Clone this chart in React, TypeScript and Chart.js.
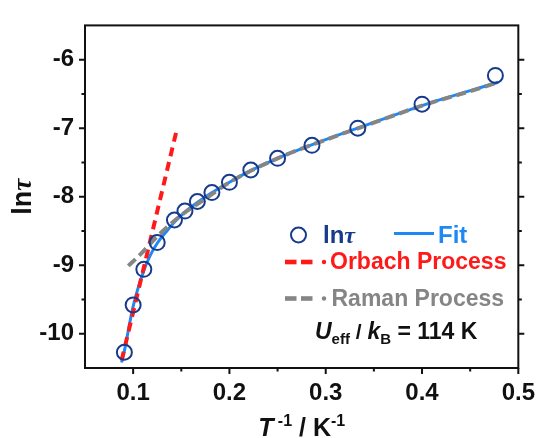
import React, { useEffect, useRef } from "react";
import { Chart, registerables } from "chart.js";
Chart.register(...registerables);

// measured data: T^-1 (K^-1) and ln(tau)
const inverseT = [0.0909, 0.1, 0.1111, 0.125, 0.1429, 0.1538, 0.1667, 0.1818, 0.2, 0.2222, 0.25, 0.2857, 0.3333, 0.4, 0.4762];
const lnTau = [-10.27, -9.58, -9.06, -8.67, -8.34, -8.21, -8.07, -7.94, -7.79, -7.61, -7.44, -7.25, -7.0, -6.65, -6.23];

// fit curve
const fitX = [0.088, 0.0909, 0.1, 0.111, 0.118, 0.125, 0.135, 0.143, 0.154, 0.167, 0.182, 0.2, 0.222, 0.25, 0.286, 0.333, 0.4, 0.479];
const fitY = [-10.42, -10.25, -9.6, -9.08, -8.85, -8.68, -8.5, -8.37, -8.22, -8.08, -7.94, -7.79, -7.62, -7.44, -7.24, -7.0, -6.67, -6.33];

// Orbach process line
const orbachX = [0.088, 0.145];
const orbachY = [-10.39, -7.04];

// Raman process curve
const ramanX = [0.095, 0.107, 0.125, 0.15, 0.175, 0.2, 0.25, 0.3, 0.35, 0.4, 0.45, 0.479];
const ramanY = [-9.01, -8.85, -8.58, -8.27, -8.03, -7.79, -7.44, -7.17, -6.92, -6.67, -6.46, -6.33];

// axes
const xMajor = [0.1, 0.2, 0.3, 0.4, 0.5];
const xMinor = [0.15, 0.25, 0.35, 0.45];
const yMajor = [-10, -9, -8, -7, -6];
const yMinor = [-9.5, -8.5, -7.5, -6.5];

const SANS = '"Liberation Sans", Arial, sans-serif';
const SERIF = '"Liberation Serif", "Times New Roman", serif';
const NAVY = "#173b8c";
const BLUE = "#1e88f5";
const RED = "#ff1a1a";
const GRAY = "#858585";

type Run = { t: string; font: string; dy?: number; color?: string };

function drawRuns(ctx: CanvasRenderingContext2D, runs: Run[], x: number, y: number, align: "left" | "center", color: string) {
  ctx.save();
  ctx.textBaseline = "alphabetic";
  ctx.textAlign = "left";
  let total = 0;
  const widths = runs.map((r) => {
    ctx.font = r.font;
    const w = ctx.measureText(r.t).width;
    total += w;
    return w;
  });
  let cx = align === "center" ? x - total / 2 : x;
  runs.forEach((r, i) => {
    ctx.font = r.font;
    ctx.fillStyle = r.color || color;
    ctx.fillText(r.t, cx, y + (r.dy || 0));
    cx += widths[i];
  });
  ctx.restore();
}

const decorPlugin = {
  id: "decor",
  afterDraw(chart: any) {
    const ctx: CanvasRenderingContext2D = chart.ctx;
    const { left, right, top, bottom } = chart.chartArea;
    const xs = chart.scales.x;
    const ys = chart.scales.y;
    ctx.save();
    ctx.strokeStyle = "#111";
    ctx.lineWidth = 2;
    ctx.strokeRect(left, top, right - left, bottom - top);
    ctx.beginPath();
    xMajor.forEach((v) => {
      const p = xs.getPixelForValue(v);
      ctx.moveTo(p, bottom);
      ctx.lineTo(p, bottom + 6);
    });
    xMinor.forEach((v) => {
      const p = xs.getPixelForValue(v);
      ctx.moveTo(p, bottom);
      ctx.lineTo(p, bottom + 3.5);
    });
    yMajor.forEach((v) => {
      const p = ys.getPixelForValue(v);
      ctx.moveTo(left, p);
      ctx.lineTo(left - 6, p);
      ctx.moveTo(right, p);
      ctx.lineTo(right + 6, p);
    });
    yMinor.forEach((v) => {
      const p = ys.getPixelForValue(v);
      ctx.moveTo(left, p);
      ctx.lineTo(left - 3.5, p);
      ctx.moveTo(right, p);
      ctx.lineTo(right + 3.5, p);
    });
    ctx.stroke();
    ctx.restore();

    // y title
    ctx.save();
    ctx.translate(31, (top + bottom) / 2);
    ctx.rotate(-Math.PI / 2);
    drawRuns(ctx, [
      { t: "ln", font: `bold 27px ${SANS}` },
      { t: "τ", font: `italic bold 27px ${SERIF}` },
    ], 0, 0, "center", "#111");
    ctx.restore();

    // x title
    drawRuns(ctx, [
      { t: "T", font: `italic bold 25px ${SANS}` },
      { t: " -1", font: `bold 16px ${SANS}`, dy: -10 },
      { t: " / K", font: `bold 25px ${SANS}` },
      { t: "-1", font: `bold 16px ${SANS}`, dy: -10 },
    ], (left + right) / 2, 436, "center", "#111");

    // legend
    ctx.save();
    ctx.strokeStyle = NAVY;
    ctx.lineWidth = 2;
    ctx.beginPath();
    ctx.arc(298.5, 235, 7.5, 0, Math.PI * 2);
    ctx.stroke();
    ctx.strokeStyle = BLUE;
    ctx.lineWidth = 3;
    ctx.beginPath();
    ctx.moveTo(394, 233.5);
    ctx.lineTo(434, 233.5);
    ctx.stroke();
    const marker = (y: number, color: string) => {
      ctx.fillStyle = color;
      ctx.fillRect(285, y - 2.3, 11.5, 4.6);
      ctx.fillRect(301, y - 2.3, 11.5, 4.6);
      ctx.beginPath();
      ctx.arc(324, y, 2.2, 0, Math.PI * 2);
      ctx.fill();
    };
    marker(262, RED);
    marker(298.5, GRAY);
    ctx.restore();

    drawRuns(ctx, [
      { t: "ln", font: `bold 24px ${SANS}` },
      { t: "τ", font: `italic bold 24px ${SERIF}` },
    ], 323, 242.5, "left", NAVY);
    drawRuns(ctx, [{ t: "Fit", font: `bold 24px ${SANS}` }], 438, 242.5, "left", BLUE);
    drawRuns(ctx, [{ t: "Orbach Process", font: `bold 23px ${SANS}` }], 330, 269, "left", RED);
    drawRuns(ctx, [{ t: "Raman Process", font: `bold 23px ${SANS}` }], 331.5, 305.5, "left", GRAY);
    drawRuns(ctx, [
      { t: "U", font: `italic bold 23px ${SANS}` },
      { t: "eff", font: `bold 15px ${SANS}`, dy: 5 },
      { t: " / ", font: `bold 21px ${SANS}` },
      { t: "k", font: `italic bold 23px ${SANS}` },
      { t: "B", font: `bold 15px ${SANS}`, dy: 5 },
      { t: " = 114 K", font: `bold 23px ${SANS}` },
    ], 315, 338.5, "left", "#111");
  },
};

export default function App() {
  const ref = useRef<HTMLCanvasElement | null>(null);
  useEffect(() => {
    if (!ref.current) return;
    const tickFont = { family: SANS, size: 24, weight: "bold" as const };
    const chart = new Chart(ref.current, {
      type: "scatter",
      data: {
        datasets: [
          {
            label: "lnτ",
            data: inverseT.map((x, i) => ({ x, y: lnTau[i] })),
            pointStyle: "circle",
            pointRadius: 7.5,
            pointBorderWidth: 2,
            borderColor: NAVY,
            backgroundColor: "rgba(0,0,0,0)",
            showLine: false,
            order: 0,
          },
          {
            label: "Raman Process",
            data: ramanX.map((x, i) => ({ x, y: ramanY[i] })),
            showLine: true,
            pointRadius: 0,
            borderColor: GRAY,
            borderWidth: 4,
            borderDash: [10, 5],
            cubicInterpolationMode: "monotone",
            order: 1,
          },
          {
            label: "Orbach Process",
            data: orbachX.map((x, i) => ({ x, y: orbachY[i] })),
            showLine: true,
            pointRadius: 0,
            borderColor: RED,
            borderWidth: 4,
            borderDash: [9, 6],
            order: 2,
          },
          {
            label: "Fit",
            data: fitX.map((x, i) => ({ x, y: fitY[i] })),
            showLine: true,
            pointRadius: 0,
            borderColor: BLUE,
            borderWidth: 3,
            cubicInterpolationMode: "monotone",
            order: 3,
          },
        ],
      },
      options: {
        animation: false,
        responsive: false,
        maintainAspectRatio: false,
        layout: { padding: { top: 13, right: 20, left: 0, bottom: 0 } },
        plugins: { legend: { display: false }, tooltip: { enabled: false } },
        scales: {
          x: {
            type: "linear",
            min: 0.05,
            max: 0.5,
            grid: { display: false, drawTicks: false },
            border: { display: false },
            ticks: {
              padding: 11,
              font: tickFont,
              color: "#111",
              autoSkip: false,
              maxRotation: 0,
              callback: (v: any) => Number(v).toFixed(1),
            },
            afterBuildTicks: (s: any) => {
              s.ticks = xMajor.map((value) => ({ value }));
            },
            afterFit: (s: any) => {
              s.height = 70;
            },
          },
          y: {
            type: "linear",
            min: -10.5,
            max: -5.5,
            grid: { display: false, drawTicks: false },
            border: { display: false },
            ticks: {
              padding: 11,
              font: tickFont,
              color: "#111",
              autoSkip: false,
              callback: (v: any) => String(v),
            },
            afterBuildTicks: (s: any) => {
              s.ticks = yMajor.map((value) => ({ value }));
            },
            afterFit: (s: any) => {
              s.width = 85;
            },
          },
        },
      },
      plugins: [decorPlugin],
    });
    return () => chart.destroy();
  }, []);
  return (
    <div style={{ position: "absolute", left: 0, top: 0, width: 546, height: 438, background: "#fff" }}>
      <canvas ref={ref} width={546} height={438} style={{ display: "block" }} />
    </div>
  );
}
